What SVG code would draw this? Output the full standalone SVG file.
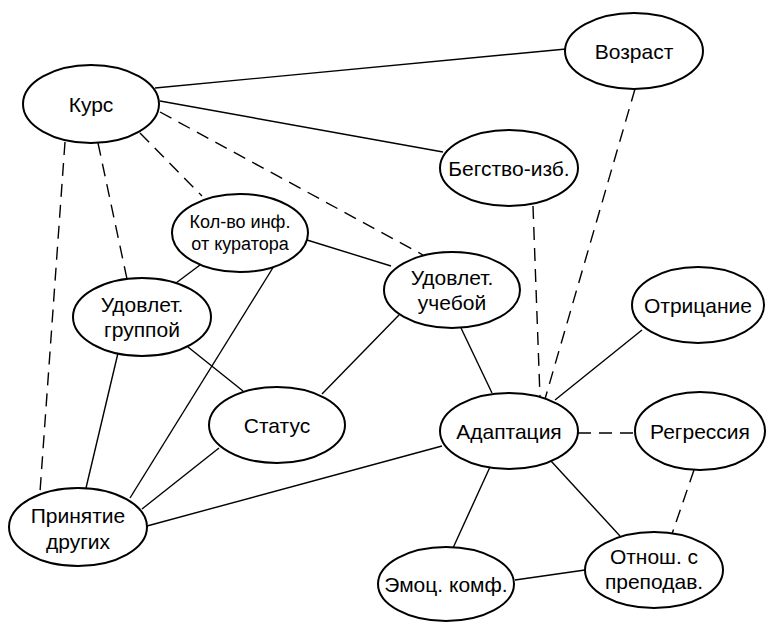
<svg xmlns="http://www.w3.org/2000/svg" width="766" height="622" viewBox="0 0 766 622">
<style>
.n ellipse{fill:#fff;stroke:#000;stroke-width:2}
.n text{font-family:'Liberation Sans',Arial,sans-serif;font-size:21px;fill:#000;text-anchor:middle}
.n text.s{font-size:18px}
.e line{stroke:#000;stroke-width:1.4;fill:none}
.e .d{stroke-dasharray:13 8}
</style>
<rect width="766" height="622" fill="#fff"/>
<g class="e" id="connectors">
<line x1="155" y1="88" x2="566" y2="49"/>
<line x1="160" y1="101" x2="443" y2="152"/>
<line x1="307" y1="240" x2="391" y2="266"/>
<line x1="200" y1="265" x2="176" y2="283"/>
<line x1="274" y1="266" x2="130" y2="498"/>
<line x1="188" y1="347" x2="243" y2="391"/>
<line x1="118" y1="353" x2="86" y2="488"/>
<line x1="399" y1="315" x2="322" y2="394"/>
<line x1="461" y1="328" x2="492" y2="393"/>
<line x1="219" y1="448" x2="142" y2="509"/>
<line x1="442" y1="446" x2="147" y2="526"/>
<line x1="642" y1="330" x2="555" y2="400"/>
<line x1="490" y1="467" x2="453" y2="548"/>
<line x1="551" y1="461" x2="620" y2="536"/>
<line x1="515" y1="580" x2="585" y2="570"/>
<line class="d" x1="160" y1="112" x2="423" y2="255"/>
<line class="d" x1="140" y1="133" x2="202" y2="196"/>
<line class="d" x1="98" y1="143" x2="127" y2="279"/>
<line class="d" x1="65" y1="142" x2="40" y2="492"/>
<line class="d" x1="635" y1="89" x2="545" y2="399"/>
<line class="d" x1="533" y1="206" x2="540" y2="397"/>
<line class="d" x1="578" y1="433" x2="634" y2="433"/>
<line class="d" x1="694" y1="470" x2="672" y2="534"/>
</g>
<g class="n" id="kurs"><ellipse cx="91" cy="104" rx="68" ry="39"/><text x="91" y="112">Курс</text></g>
<g class="n" id="vozrast"><ellipse cx="634" cy="51" rx="69" ry="38"/><text x="634" y="59">Возраст</text></g>
<g class="n" id="begstvo"><ellipse cx="509" cy="168" rx="69" ry="38"/><text x="509" y="176">Бегство-изб.</text></g>
<g class="n" id="kolvo"><ellipse cx="240" cy="233" rx="68" ry="39"/><text class="s" x="240" y="228">Кол-во инф.</text><text class="s" x="240" y="250">от куратора</text></g>
<g class="n" id="udovl-gr"><ellipse cx="142" cy="317" rx="69" ry="39"/><text x="142" y="312">Удовлет.</text><text x="142" y="337">группой</text></g>
<g class="n" id="udovl-uch"><ellipse cx="452" cy="290" rx="68" ry="38"/><text x="452" y="285">Удовлет.</text><text x="452" y="310">учебой</text></g>
<g class="n" id="otricanie"><ellipse cx="698" cy="305" rx="66" ry="38"/><text x="698" y="313">Отрицание</text></g>
<g class="n" id="status"><ellipse cx="277" cy="425" rx="68" ry="38"/><text x="277" y="433">Статус</text></g>
<g class="n" id="adaptacia"><ellipse cx="509" cy="431" rx="69" ry="38"/><text x="509" y="439">Адаптация</text></g>
<g class="n" id="regressia"><ellipse cx="700" cy="431" rx="65" ry="39"/><text x="700" y="439">Регрессия</text></g>
<g class="n" id="prinyatie"><ellipse cx="78" cy="527" rx="69" ry="39"/><text x="78" y="523">Принятие</text><text x="78" y="549">других</text></g>
<g class="n" id="otnosh"><ellipse cx="654" cy="570" rx="69" ry="38"/><text x="654" y="564">Отнош. с</text><text x="654" y="589">преподав.</text></g>
<g class="n" id="emoc"><ellipse cx="446" cy="584" rx="68" ry="37"/><text x="446" y="592">Эмоц. комф.</text></g>
</svg>
